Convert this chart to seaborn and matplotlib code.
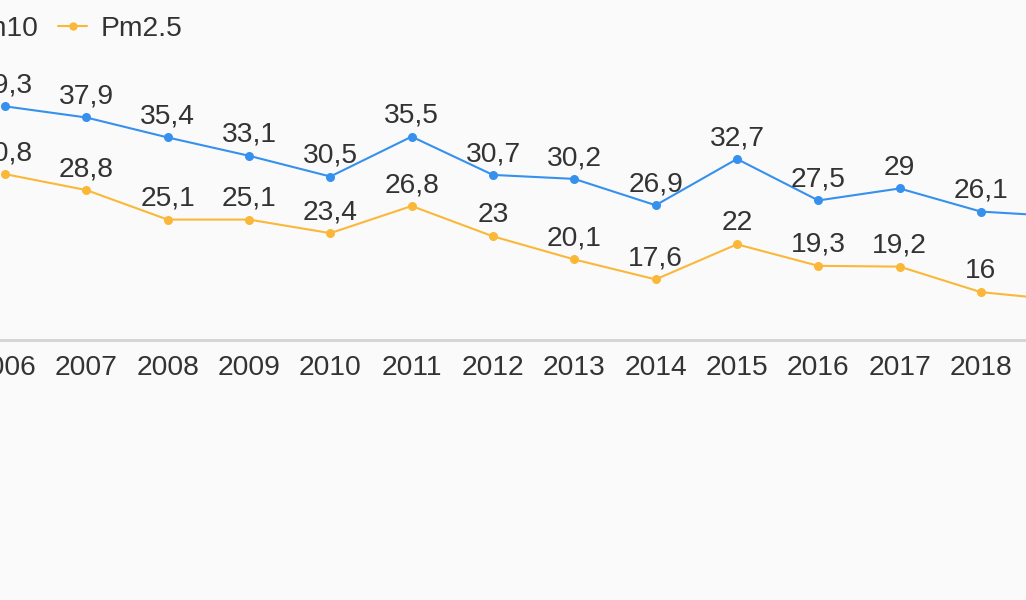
import numpy as np
import pandas as pd
import matplotlib
matplotlib.use('Agg')
import matplotlib.pyplot as plt
import seaborn as sb

# Data (2019 is cut off at the right edge, estimated)
years = ['2006', '2007', '2008', '2009', '2010', '2011', '2012',
         '2013', '2014', '2015', '2016', '2017', '2018', '2019']
pm10 = [39.3, 37.9, 35.4, 33.1, 30.5, 35.5, 30.7, 30.2, 26.9, 32.7, 27.5, 29.0, 26.1, 25.5]
pm25 = [30.8, 28.8, 25.1, 25.1, 23.4, 26.8, 23.0, 20.1, 17.6, 22.0, 19.3, 19.2, 16.0, 15.0]

blue = '#3690ee'
orange = '#fbb838'
text_col = '#333333'
fs = 20.3

sb.set_style('white')
plt.rcParams['font.family'] = ['Liberation Sans', 'DejaVu Sans']

data = pd.DataFrame({
    'idx': list(range(len(years))) * 2,
    'value': pm10 + pm25,
    'series': ['Pm10'] * len(years) + ['Pm2.5'] * len(years),
})

fig = plt.figure(figsize=(10.26, 6.0), dpi=100)
fig.patch.set_facecolor('#fafafa')
ax = fig.add_axes([0, 260 / 600, 1, 319 / 600])
ax.set_facecolor('#fafafa')

sb.lineplot(data=data, x='idx', y='value', hue='series',
            palette={'Pm10': blue, 'Pm2.5': orange},
            marker='o', markersize=6.5, markeredgewidth=0,
            linewidth=1.5, ax=ax, legend=False)

ax.set_xticks(range(len(years)))
ax.set_xticklabels(years)
# the original chart is wider than the picture: only part of it is visible
ax.set_xlim(-5 / 81.33, 1021 / 81.33)
ax.set_ylim(10, 50)

# value labels
for vals in (pm10, pm25):
    for i, v in enumerate(vals):
        txt = str(int(v)) if v == int(v) else str(v).replace('.', ',')
        ax.annotate(txt, (i, v), xytext=(0, 10), textcoords='offset points',
                    ha='center', va='baseline', fontsize=fs, color=text_col)

ax.tick_params(axis='x', length=0, pad=11, labelsize=fs, labelcolor=text_col)
ax.set_yticks([])
ax.set_xlabel('')
ax.set_ylabel('')
for s in ['top', 'left', 'right']:
    ax.spines[s].set_visible(False)
ax.spines['bottom'].set_color('#d6d6d6')
ax.spines['bottom'].set_linewidth(2.2)

# legend (centred on the original, wider chart, so partly cut off)
handles = [plt.Line2D([], [], color=c, marker='o', markersize=6, markeredgewidth=0, linewidth=1.5)
           for c in (blue, orange)]
fig.legend(handles, ['Pm10', 'Pm2.5'], loc='center left',
           bbox_to_anchor=(-78 / 1026, 1 - 29 / 600), bbox_transform=fig.transFigure,
           ncol=2, frameon=False, fontsize=fs, labelcolor=text_col,
           handlelength=1.0, handletextpad=0.5, columnspacing=0.72,
           borderpad=0, borderaxespad=0)

plt.savefig('out.png', dpi=100, facecolor=fig.get_facecolor())
